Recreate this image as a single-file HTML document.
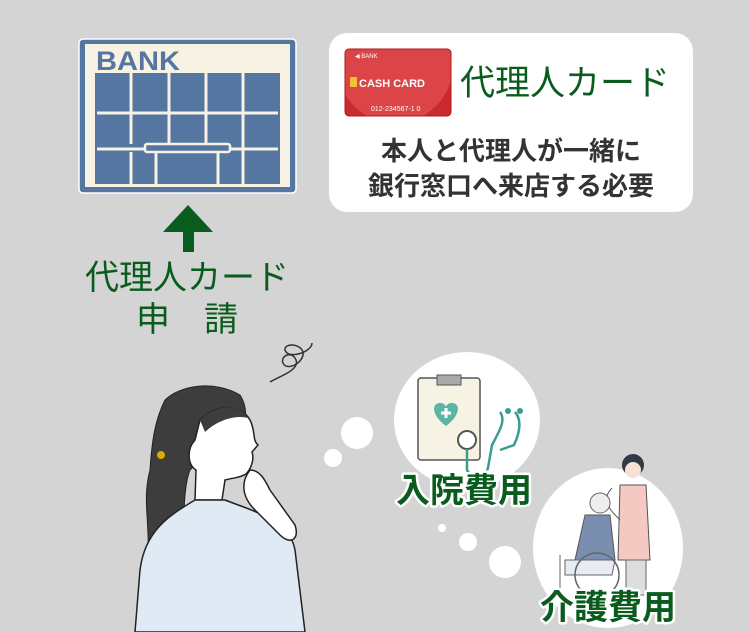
<!DOCTYPE html>
<html><head><meta charset="utf-8"><style>
html,body{margin:0;padding:0;background:#d4d4d4}
svg{display:block}
.jp{font-family:"Liberation Sans","Noto Sans CJK JP",sans-serif}
.b{font-weight:bold}
</style></head><body>
<svg width="750" height="632" viewBox="0 0 750 632" xmlns="http://www.w3.org/2000/svg">
<defs><clipPath id="cc"><rect x="345" y="49" width="106" height="67" rx="4"/></clipPath></defs>
<rect width="750" height="632" fill="#d4d4d4"/>
<!-- Bank -->
<rect x="79" y="39" width="217" height="154" rx="4" fill="#5476a1" stroke="#fff" stroke-width="1.5"/>
<rect x="85" y="44" width="205" height="143" fill="#f8f2e4"/>
<rect x="95" y="73" width="185" height="111" fill="#5476a1"/>
<text x="96" y="70" font-family="Liberation Sans,sans-serif" font-weight="bold" font-size="27" fill="#5476a1" textLength="84" lengthAdjust="spacingAndGlyphs">BANK</text>
<g stroke="#f8f2e4" stroke-width="3">
<line x1="131" y1="73" x2="131" y2="144"/><line x1="169" y1="73" x2="169" y2="144"/>
<line x1="206" y1="73" x2="206" y2="144"/><line x1="243" y1="73" x2="243" y2="184"/>
<line x1="131" y1="152" x2="131" y2="184"/>
<line x1="97" y1="113" x2="278" y2="113"/><line x1="97" y1="149" x2="145" y2="149"/><line x1="230" y1="149" x2="278" y2="149"/>
<line x1="156" y1="150" x2="156" y2="184"/><line x1="218" y1="150" x2="218" y2="184"/>
</g>
<rect x="145" y="144" width="85" height="8" rx="2" fill="#5476a1" stroke="#f8f2e4" stroke-width="2.5"/>
<!-- arrow -->
<polygon points="188,205 163,232 213,232" fill="#0a5c1e"/>
<rect x="183" y="230" width="11" height="22" fill="#0a5c1e"/>
<text x="187" y="289" text-anchor="middle" class="jp" font-size="34" fill="#0a5c1e">代理人カード</text>
<text x="187" y="331" text-anchor="middle" class="jp" font-size="34" fill="#0a5c1e">申　請</text>
<!-- card box -->
<rect x="329" y="33" width="364" height="179" rx="18" fill="#fff"/>
<g clip-path="url(#cc)">
<rect x="345" y="49" width="106" height="67" fill="#c92a2e"/>
<circle cx="395" cy="65" r="58" fill="#dc4548"/>
</g>
<rect x="345" y="49" width="106" height="67" rx="4" fill="none" stroke="#b01818" stroke-width="1"/>
<text x="355" y="58" font-family="Liberation Sans,sans-serif" font-size="6" fill="#fff">◀ BANK</text>
<rect x="350" y="77" width="7" height="10" rx="1" fill="#f1c232"/>
<text x="359" y="87" font-family="Liberation Sans,sans-serif" font-weight="bold" font-size="11" fill="#fff">CASH CARD</text>
<text x="371" y="111" font-family="Liberation Sans,sans-serif" font-size="7" fill="#fff">012-234567-1 0</text>
<text x="460" y="95" class="jp" font-size="35" fill="#0a5c1e">代理人カード</text>
<text x="511" y="160" text-anchor="middle" class="jp b" font-size="26" fill="#333">本人と代理人が一緒に</text>
<text x="511" y="195" text-anchor="middle" class="jp b" font-size="26" fill="#333">銀行窓口へ来店する必要</text>
<!-- bubbles -->
<ellipse cx="467" cy="420" rx="73" ry="68" fill="#fff"/>
<ellipse cx="608" cy="548" rx="75" ry="80" fill="#fff"/>
<circle cx="357" cy="433" r="16" fill="#fff"/>
<circle cx="333" cy="458" r="9" fill="#fff"/>
<circle cx="442" cy="528" r="4" fill="#fff"/>
<circle cx="468" cy="542" r="9" fill="#fff"/>
<circle cx="505" cy="562" r="16" fill="#fff"/>
<!-- clipboard -->
<rect x="418" y="378" width="62" height="82" rx="3" fill="#f7f3e4" stroke="#555" stroke-width="1.5"/>
<rect x="437" y="375" width="24" height="10" fill="#aaa" stroke="#555"/>
<path d="M446 426 C430 414 432 402 441 403 C444 403 446 406 446 407 C446 406 448 403 451 403 C460 402 462 414 446 426Z" fill="#5bb5a3"/>
<path d="M446 408 V418 M441 413 H451" stroke="#fff" stroke-width="3"/>
<circle cx="467" cy="440" r="9" fill="#fff" stroke="#555" stroke-width="2"/>
<path d="M467 449 V470 C470 478 485 478 488 468 L492 445 C500 430 506 420 500 412 M515 412 C522 420 520 432 514 445 L500 450" fill="none" stroke="#3a9d8f" stroke-width="2.5"/>
<circle cx="508" cy="411" r="3" fill="#3a9d8f"/><circle cx="520" cy="411" r="3" fill="#3a9d8f"/>
<!-- wheelchair scene -->
<circle cx="633" cy="465" r="11" fill="#2f3b4a"/>
<circle cx="633" cy="470" r="8" fill="#f6e2d2"/>
<path d="M620 485 L646 485 L650 560 L618 560Z" fill="#f4c9c2" stroke="#555"/>
<path d="M612 488 C600 500 610 510 620 520" fill="none" stroke="#555"/>
<rect x="626" y="560" width="20" height="35" fill="#ddd" stroke="#666"/>
<circle cx="600" cy="503" r="10" fill="#eee" stroke="#666"/>
<path d="M585 515 L610 515 L615 560 L575 560Z" fill="#7a8fb0" stroke="#555"/>
<path d="M565 560 L615 560 L612 575 L565 575Z" fill="#e7ecf3" stroke="#666"/>
<circle cx="597" cy="575" r="22" fill="none" stroke="#666" stroke-width="1.5"/>
<line x1="560" y1="555" x2="560" y2="600" stroke="#666"/>
<!-- labels -->
<g class="jp b" font-size="34" fill="#0a5c1e" stroke="#fff" stroke-width="5" paint-order="stroke" stroke-linejoin="round">
<text x="396" y="502">入院費用</text>
<text x="540" y="619">介護費用</text>
</g>
<!-- swirl -->
<path d="M270 382 C280 376 300 370 296 360 C292 350 280 356 283 363 C287 372 305 362 303 352 C300 343 284 343 285 350 C288 360 312 352 312 343" fill="none" stroke="#333" stroke-width="1.5"/>
<!-- woman -->
<path d="M148 560 C150 520 142 500 150 470 C152 440 155 420 165 400 C180 385 215 380 240 395 C250 410 245 430 238 440 L225 445 C210 452 200 460 190 470 C182 490 185 530 180 560 C175 590 155 600 148 560Z" fill="#3d3d3d" stroke="#222"/>
<path d="M200 420 C215 405 240 402 250 420 C256 432 252 440 258 445 L252 452 C255 460 250 470 246 474 C240 478 232 478 225 480 L222 500 L195 500 L196 470 C188 465 186 450 195 440Z" fill="#fff" stroke="#222" stroke-width="1.5"/>
<path d="M200 420 C215 405 240 402 248 418 C238 415 220 418 205 432Z" fill="#3d3d3d"/>
<path d="M135 632 L140 570 C145 530 170 515 195 500 L225 500 C250 510 290 520 295 550 L305 632Z" fill="#dfeaf4" stroke="#222" stroke-width="1.5"/>
<path d="M250 470 C242 480 240 495 255 510 L280 535 C290 545 300 540 295 525 L270 490 C265 480 260 470 250 470Z" fill="#fff" stroke="#222" stroke-width="1.5"/>
<circle cx="161" cy="455" r="4" fill="#e0a800"/>
</svg>
</body></html>
